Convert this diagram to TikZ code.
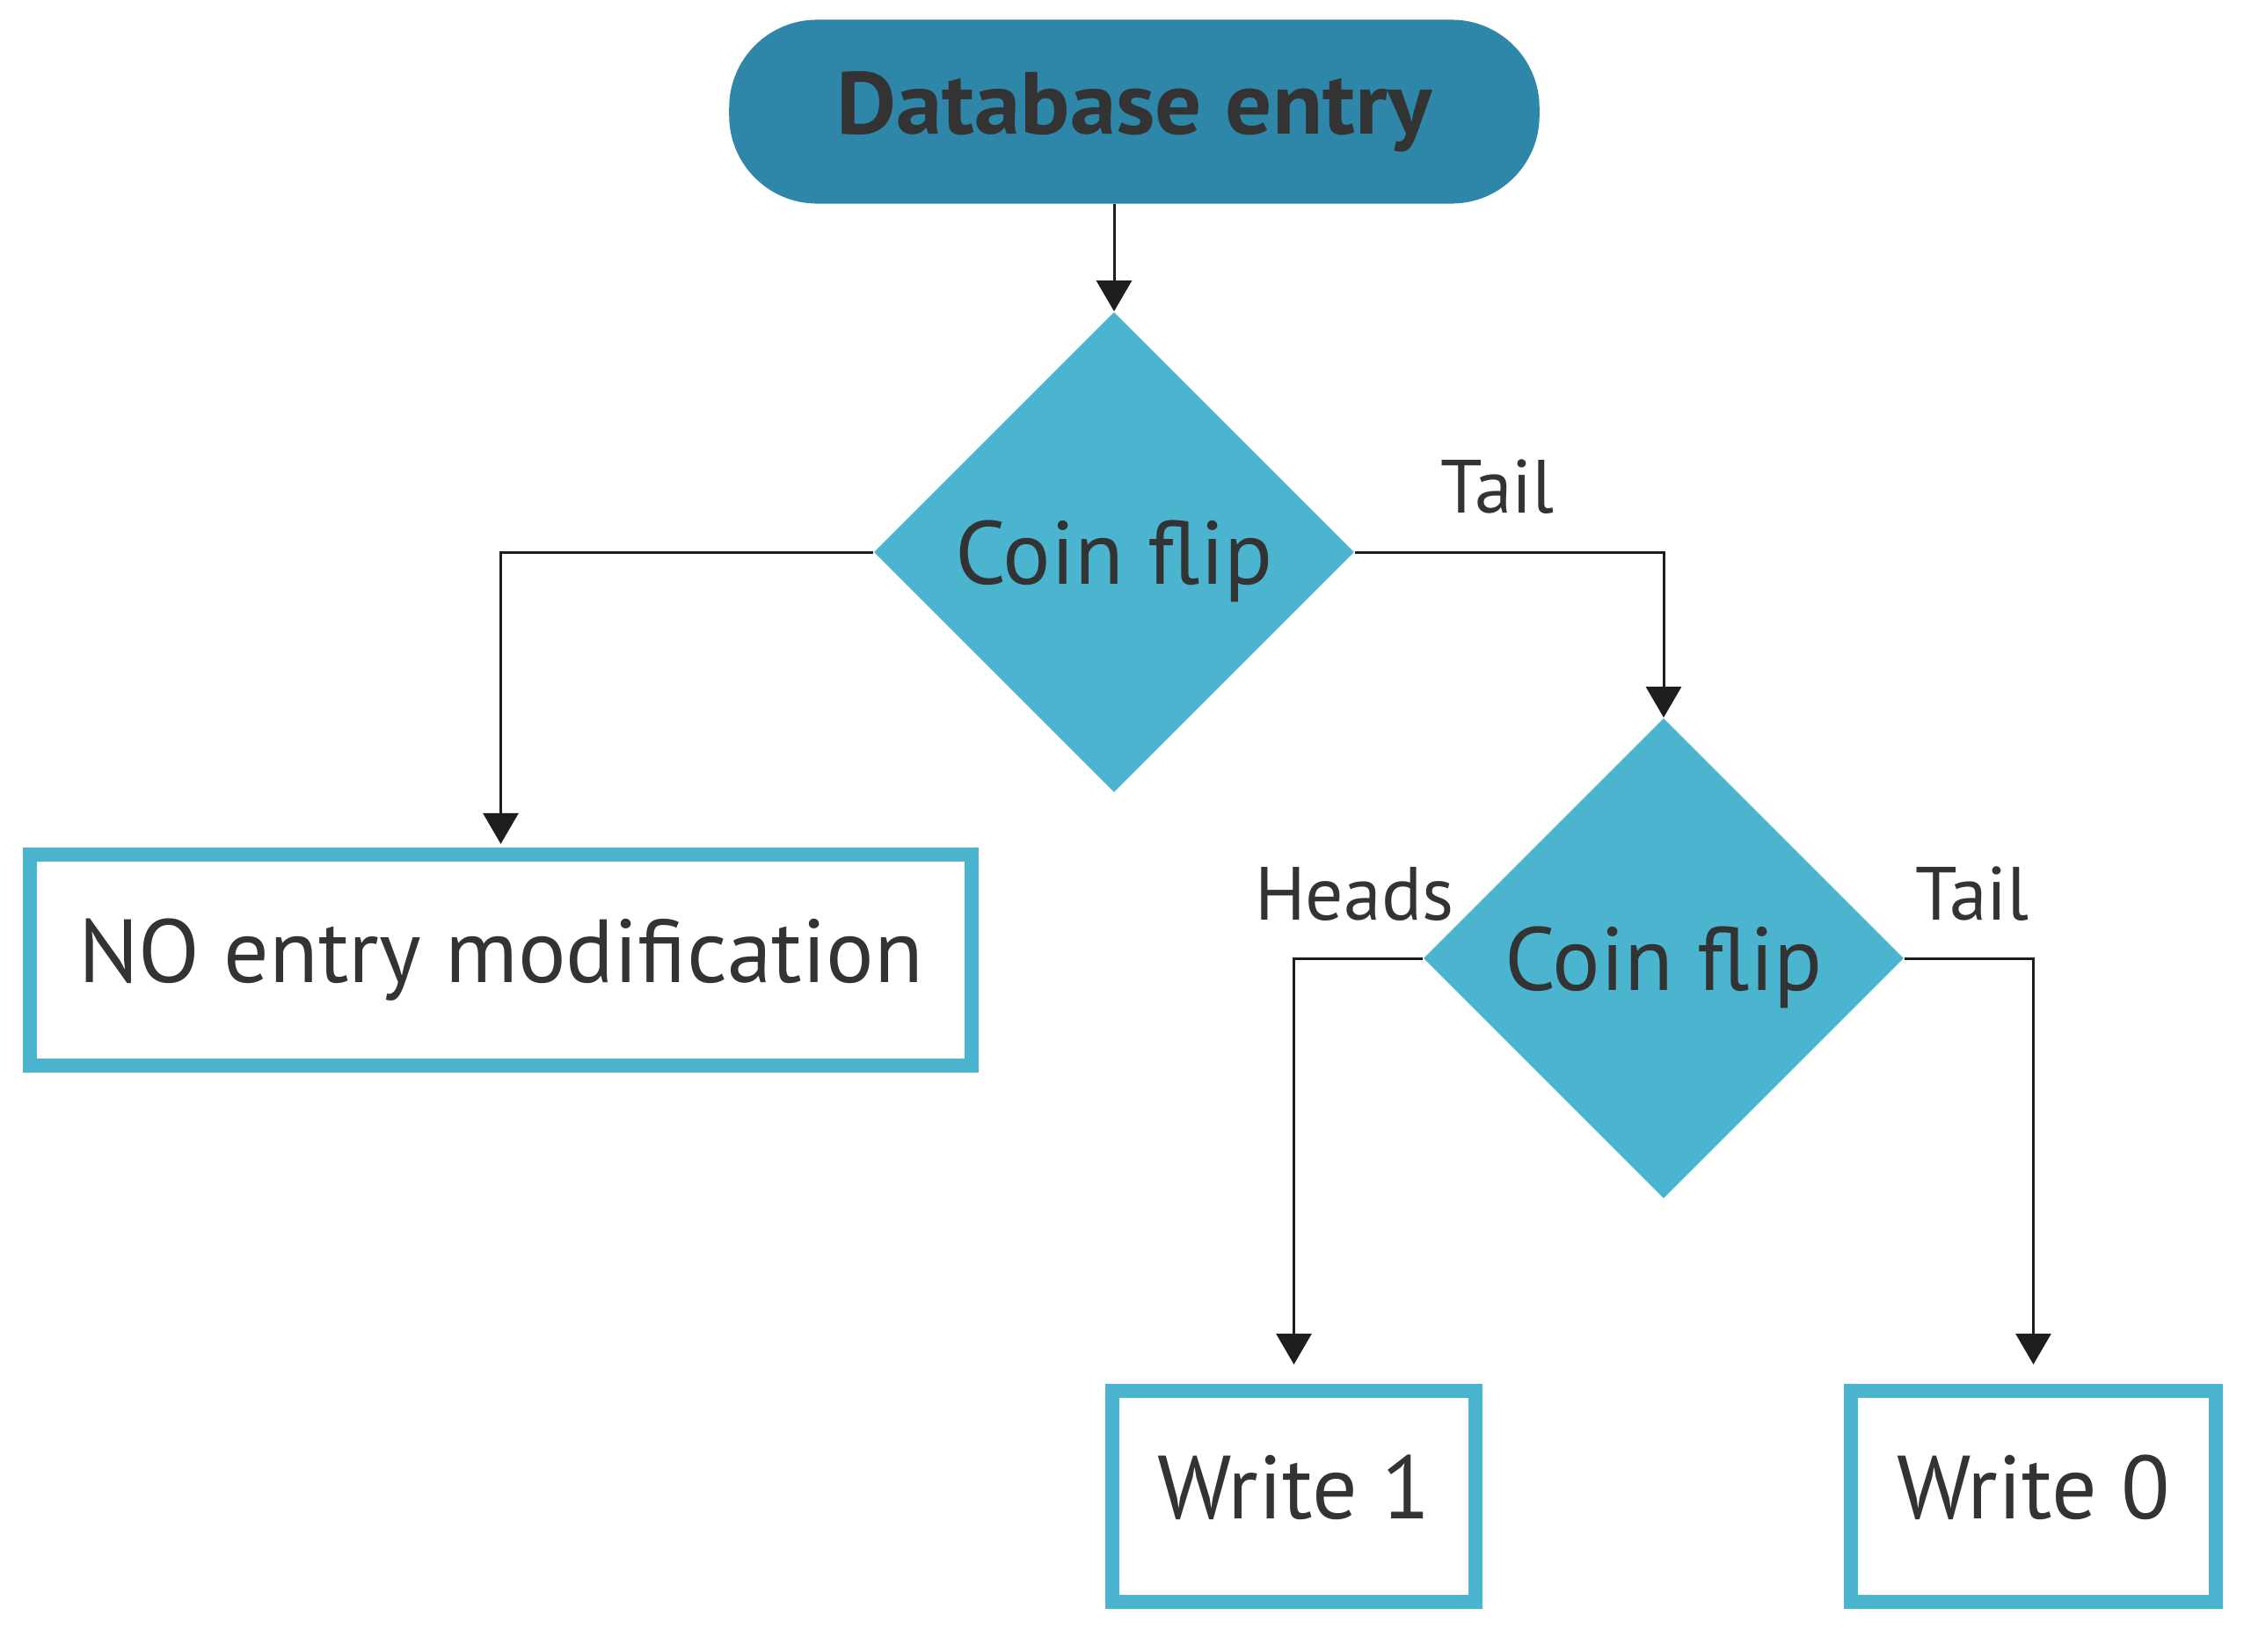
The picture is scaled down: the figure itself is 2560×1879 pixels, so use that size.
\documentclass[tikz,border=0pt]{standalone}
\usepackage{fontspec}
\setmainfont{PT Sans}[BoldFeatures={FakeStretch=1.05}]
\usetikzlibrary{shapes.geometric,arrows.meta}
\definecolor{pillblue}{RGB}{46,135,169}
\definecolor{lightblue}{RGB}{75,181,208}
\definecolor{txt}{RGB}{51,51,51}
\definecolor{linec}{RGB}{30,30,30}
\begin{document}
\begin{tikzpicture}[x=0.01cm,y=-0.01cm,
  every node/.style={text=txt,inner sep=0pt},
  pill/.style={fill=pillblue,rounded corners=1.0cm,minimum width=9.21cm,minimum height=2.09cm,
    font=\fontsize{28.5}{32}\selectfont\bfseries},
  dia/.style={diamond,fill=lightblue,aspect=1,minimum width=5.46cm,minimum height=5.46cm,
    font=\fontsize{29}{34}\selectfont,text height=0.78cm,text depth=0.05cm},
  outbox/.style={draw=lightblue,line width=0.16cm,minimum height=2.40cm,fill=white,
    font=\fontsize{29}{34}\selectfont},
  lbl/.style={font=\fontsize{24.4}{28}\selectfont},
  arr/.style={draw=linec,line width=0.03cm,-{Triangle[length=0.35cm,width=0.40cm]}}
]
\useasboundingbox (0,0) rectangle (2560,1879);
\node[pill] (db) at (1290,127) {Database entry};
\node[dia] (c1) at (1267,628) {Coin flip};
\node[dia] (c2) at (1892,1090) {Coin flip};
\node[outbox,minimum width=10.71cm] (nomod) at (569.5,1092) {NO entry modification};
\node[outbox,minimum width=4.13cm,text height=0.72cm,text depth=0.22cm] (w1) at (1471.5,1702) {Write 1};
\node[outbox,minimum width=4.15cm,text height=0.72cm,text depth=0.22cm] (w0) at (2312.5,1702) {Write 0};
\draw[arr] (c1.north |- db.south) -- (c1.north);
\draw[arr,shorten >=0.04cm] (c1.west) -| (nomod.north);
\draw[arr] (c1.east) -| (c2.north);
\draw[arr,shorten >=0.22cm] (c2.west) -| (w1.north);
\draw[arr,shorten >=0.22cm] (c2.east) -| (w0.north);
\node[lbl,anchor=base west] (t1) at (1638,583) {Tail};
\node[lbl,anchor=base east] (h2) at (1654,1046) {Heads};
\node[lbl,anchor=base west] (t2) at (2178,1046) {Tail};
\end{tikzpicture}
\end{document}
